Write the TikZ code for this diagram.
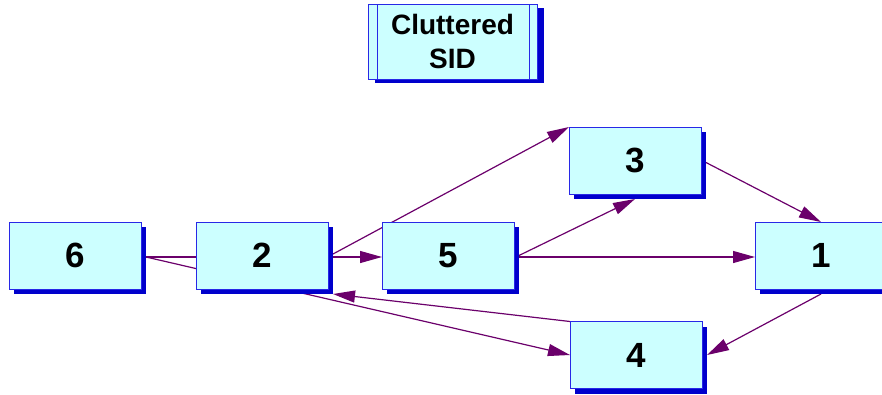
\documentclass[tikz,border=0pt]{standalone}
\usepackage{fontspec}
\setmainfont{Liberation Sans}
\usetikzlibrary{arrows.meta,shadows,backgrounds}
\definecolor{boxfill}{HTML}{CCFFFF}
\definecolor{boxline}{HTML}{2828E6}
\definecolor{shadowc}{HTML}{0000CC}
\definecolor{edgec}{HTML}{6B006B}
\begin{document}
\begin{tikzpicture}[x=1pt,y=-1pt,
  box/.style={draw=boxline, line width=1pt, fill=boxfill, minimum width=132pt, minimum height=67pt,
    inner sep=0pt, outer sep=0pt, font=\fontsize{35}{40}\selectfont\bfseries,
    drop shadow={shadow xshift=5pt, shadow yshift=-5pt, fill=shadowc, opacity=1}},
  titlebox/.style={draw=boxline, line width=1pt, fill=boxfill, minimum width=169pt, minimum height=75pt,
    inner sep=0pt, outer sep=0pt, align=center, font=\fontsize{28}{34}\selectfont\bfseries,
    drop shadow={shadow xshift=7pt, shadow yshift=-4pt, fill=shadowc, opacity=1}},
  edge/.style={draw=edgec, line width=1.2pt, -{Triangle[length=22pt,width=12pt]}}]
\useasboundingbox (0,0) rectangle (882,394);
\clip (0,0) rectangle (882,394);

\node[titlebox] (t) at (452.5,41.5) {Cluttered\\SID};
\draw[boxline, line width=1pt] ([xshift=9pt]t.north west) -- ([xshift=9pt]t.south west);
\draw[boxline, line width=1pt] ([xshift=-8pt]t.north east) -- ([xshift=-8pt]t.south east);

\node[box] (n6) at (75,255.5) {6};
\node[box] (n2) at (262,255.5) {2};
\node[box] (n5) at (448,255.5) {5};
\node[box] (n3) at (635,160.5) {3};
\node[box] (n4) at (636,355) {4};
\node[box] (n1) at (821,255.5) {1};

\begin{scope}[on background layer]
\draw[edge] ([shift={(5,1.5)}]n6.east) -- ([shift={(0,1.5)}]n5.west);
\draw[edge] ([shift={(5,1.5)}]n6.east) -- (n4.west);
\draw[edge] ([shift={(5,-1.5)}]n2.east) -- (n3.north west);
\draw[edge] ([shift={(5,0)}]n5.east) -- ([shift={(0,5)}]n3.south);
\draw[edge] ([shift={(5,1.5)}]n5.east) -- ([shift={(0,1.5)}]n1.west);
\draw[edge] ([shift={(5,2)}]n3.east) -- (n1.north);
\draw[edge] ([shift={(0,5)}]n1.south) -- ([shift={(5,0)}]n4.east);
\draw[edge] (n4.north west) -- ([shift={(5,5)}]n2.south east);
\end{scope}
\end{tikzpicture}
\end{document}
